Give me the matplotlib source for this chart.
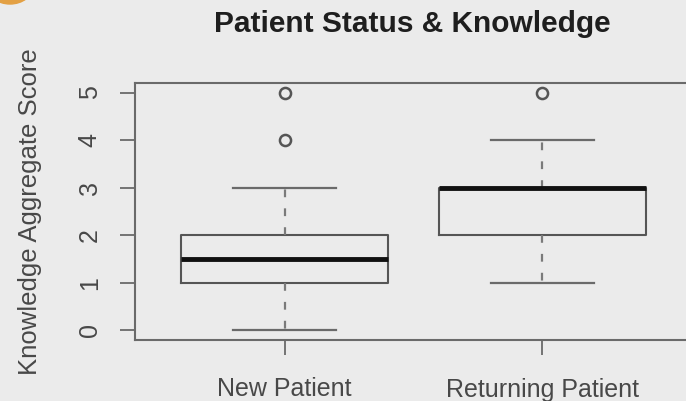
import matplotlib
matplotlib.use("Agg")
import matplotlib.pyplot as plt
from matplotlib.patches import Ellipse

# ---- data ----
categories = ["New Patient", "Returning Patient"]
q1 = [1, 2]
medians = [1.5, 3]
q3 = [2, 3]
whisker_low = [0, 1]
whisker_high = [3, 4]
outliers = [[4, 5], [5]]
y_ticks = [0, 1, 2, 3, 4, 5]

title = "Patient Status & Knowledge"
ylabel = "Knowledge Aggregate Score"

plt.rcParams['font.family'] = ['Liberation Sans', 'DejaVu Sans']

bg = "#ebebeb"
fig = plt.figure(figsize=(6.86, 4.01), dpi=100, facecolor=bg)
W, H = 686, 401
left, right, top, bottom = 135, 692, 83, 340
ax = fig.add_axes([left / W, 1 - bottom / H, (right - left) / W, (bottom - top) / H])
ax.set_facecolor(bg)

stats = []
for i in range(len(categories)):
    stats.append(dict(med=medians[i], q1=q1[i], q3=q3[i],
                      whislo=whisker_low[i], whishi=whisker_high[i],
                      fliers=outliers[i], label=categories[i]))

frame_col = "#6a6a6a"
ax.bxp(stats, positions=[1, 2], widths=0.8, showfliers=True,
       boxprops=dict(color="#555555", linewidth=1.5),
       medianprops=dict(color="#111111", linewidth=3.5, solid_capstyle='butt'),
       whiskerprops=dict(color="#7a7a7a", linewidth=1.6, linestyle=(0, (3.5, 5))),
       capprops=dict(color="#6a6a6a", linewidth=1.6),
       capwidths=0.4,
       flierprops=dict(marker='o', markersize=8, markerfacecolor='none',
                       markeredgecolor="#555555", markeredgewidth=1.8))

ax.set_xlim(0.42, 2.58)
ax.set_ylim(-0.2, 5.2)
ax.set_yticks(y_ticks)
ax.set_yticklabels([str(v) for v in y_ticks], rotation=90, va='center')
ax.set_xticks([1, 2])
ax.set_xticklabels(categories)

for s in ax.spines.values():
    s.set_color(frame_col)
    s.set_linewidth(1.5)

lab_col = "#484848"
ax.tick_params(axis='both', length=11, width=1.3, color=frame_col,
               labelsize=18, labelcolor=lab_col)
ax.tick_params(axis='y', pad=13)
ax.tick_params(axis='x', pad=16)

ax.set_ylabel(ylabel, fontsize=18.5, color=lab_col)
ax.yaxis.set_label_coords((42 - left) / (right - left), 0.5)
fig.text(412 / W, 1 - 32 / H, title, ha='center', va='baseline',
         fontsize=21.5, fontweight='bold', color="#1e1e1e")

# orange corner mark
fig.patches.append(Ellipse((10 / W, 1 + 14 / H), 46 / W, 36 / H,
                           transform=fig.transFigure, color="#e3a043",
                           clip_on=False))

fig.savefig("out.png", dpi=100, facecolor=bg)
